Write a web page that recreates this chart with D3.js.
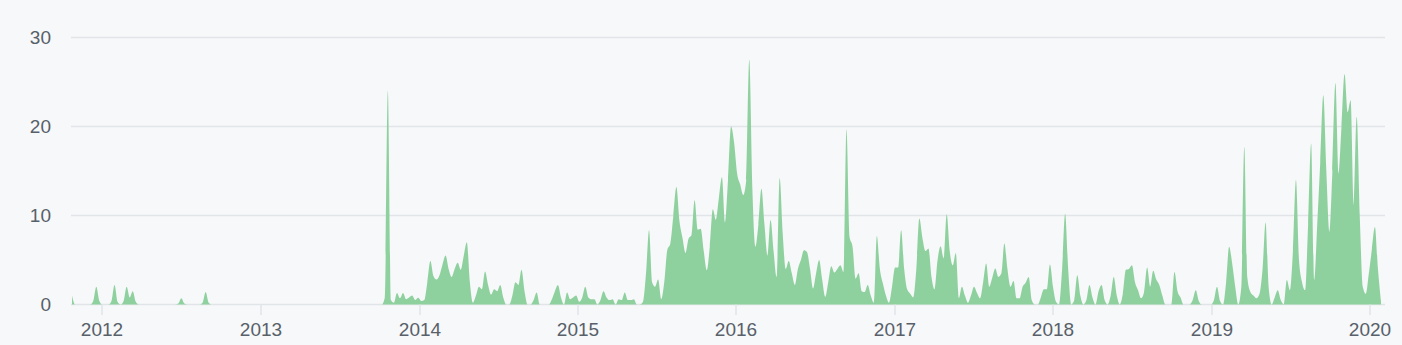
<!DOCTYPE html>
<html>
<head>
<meta charset="utf-8">
<script src="https://cdn.jsdelivr.net/npm/d3@7"></script>
<style>
  body { margin: 0; background: #f6f8fa; }
  svg { display: block; }
  text { font-family: "Liberation Sans", Arial, sans-serif; fill: #586069; }
</style>
</head>
<body>
<div id="chart"></div>
<script>
// weekly commits, first week starting 2011-10-23
var firstWeek = Date.UTC(2011, 9, 23);
var commits = [
  1, 0, 0, 0, 0, 0, 0, 0.4, 2, 0.4,
  0, 0, 0, 0.4, 2.2, 0.3, 0, 0.4, 2, 0.8,
  1.5, 0.3, 0, 0, 0, 0, 0, 0, 0, 0,
  0, 0, 0, 0, 0, 0.1, 0.7, 0.1, 0, 0,
  0, 0, 0, 0.2, 1.4, 0.2, 0, 0, 0, 0,
  0, 0, 0, 0, 0, 0, 0, 0, 0, 0,
  0, 0, 0, 0, 0, 0, 0, 0, 0, 0,
  0, 0, 0, 0, 0, 0, 0, 0, 0, 0,
  0, 0, 0, 0, 0, 0, 0, 0, 0, 0,
  0, 0, 0, 0, 0, 0, 0, 0, 0, 0,
  0, 0, 0, 0.8, 24, 0.5, 0.2, 1.3, 0.7, 1.3,
  0.6, 0.8, 1.0, 0.5, 0.75, 0.4, 0.5, 2.5, 4.9, 3.2,
  2.8, 3.3, 4.5, 5.5, 4.0, 3.1, 4.0, 4.7, 3.9, 5.5,
  7.0, 2.5, 0.2, 1.0, 2.0, 1.7, 3.7, 2.2, 1.1, 1.7,
  1.5, 2.2, 0.8, 0, 0, 1.0, 2.5, 2.2, 3.9, 1.5,
  0, 0, 0.5, 1.35, 0, 0, 0, 0, 0.6, 1.5,
  2.2, 0.8, 0, 1.35, 0.6, 0.8, 1.0, 0.3, 0.8, 2.0,
  0.8, 0.6, 0.6, 0, 0.5, 1.5, 0.8, 0.5, 0.6, 0,
  0.6, 0.5, 1.35, 0.5, 0.5, 0.6, 0, 0, 0.3, 3.5,
  8.35, 2.5, 2.0, 2.8, 0.6, 2.5, 6.1, 6.85, 10, 13.2,
  9.4, 7.5, 5.8, 7.4, 7.8, 11.7, 8.4, 8.5, 6.0, 3.85,
  6.5, 10.7, 9.5, 12, 14.3, 9.2, 14, 20, 18.2, 14.7,
  13.5, 12.3, 14, 27.5, 13.2, 6.5, 9, 13, 9, 5.5,
  9.5, 6, 3.1, 14.2, 8, 4.0, 4.9, 3.5, 2.2, 4,
  5, 6.1, 5.9, 4, 1.8, 3.5, 5.0, 2.8, 0.85, 2.5,
  4.3, 3.6, 4, 4.4, 3.65, 19.65, 7.6, 6.5, 2.9, 3.5,
  1.5, 1.4, 2.2, 1, 0.2, 7.7, 4, 2.35, 1, 0.2,
  2, 4.15, 4.15, 8.35, 4, 1.7, 1.2, 0.8, 4, 9.65,
  7.5, 6.0, 6.3, 3.1, 1.7, 5, 6.55, 5.2, 10.15, 6,
  4.4, 5.8, 0.7, 2.0, 1, 0.2, 1, 2, 1.3, 0.7,
  2.5, 4.6, 2.0, 3, 4.05, 3.1, 3.5, 6.85, 4, 2.0,
  2.65, 0.7, 0.7, 2, 2.45, 3.1, 0.5, 0, 0, 0.8,
  1.7, 1.7, 4.5, 2, 0.3, 0, 4, 10.2, 4, 0,
  0.5, 3.3, 1, 0, 0.5, 2.2, 0.8, 0, 1.5, 2.2,
  0.5, 0, 1, 3.1, 1, 0, 1.2, 3.9, 4.0, 4.4,
  2.5, 1.6, 0.7, 1.4, 4.15, 2.0, 3.8, 2.8, 2.2, 1.0,
  0, 0, 0, 3.65, 1.5, 0.8, 0, 0, 0, 0.5,
  1.6, 0.4, 0, 0, 0, 0, 0.5, 2.0, 0.4, 0,
  2.5, 6.5, 4.6, 2.0, 0, 2, 17.7, 3, 1.4, 1.0,
  0.7, 1.2, 4, 9.2, 2, 0, 0.8, 1.6, 0.5, 0,
  2.75, 1.6, 6, 14, 5, 2.5, 1.6, 9, 18.1, 2.75,
  9, 16, 23.5, 15, 8.15, 15, 24.9, 14.7, 20, 25.9,
  21.6, 22.95, 11, 21.1, 10, 2, 1.2, 3.5, 6.2, 8.7,
  4, 0.3
];
var yTicks = [0, 10, 20, 30];
var xTickYears = [2012, 2013, 2014, 2015, 2016, 2017, 2018, 2019, 2020];

var width = 1402, height = 345;

var data = commits.map(function(v, i) {
  return { date: d3.utcWeek.offset(new Date(firstWeek), i), value: v };
});

var svg = d3.select('#chart').append('svg')
  .attr('width', width)
  .attr('height', height);

var x = d3.scaleUtc()
  .domain(d3.extent(data, function(d) { return d.date; }))
  .range([72, 1381]);

var y = d3.scaleLinear()
  .domain([0, 30])
  .range([304.5, 37.5]);

// grid
svg.append('g')
  .selectAll('line')
  .data(yTicks)
  .enter()
  .append('line')
  .attr('x1', 71)
  .attr('x2', 1385)
  .attr('y1', function(d) { return y(d); })
  .attr('y2', function(d) { return y(d); })
  .attr('stroke', '#e1e4e8')
  .attr('stroke-width', 1.5)

svg.append('g')
  .selectAll('text')
  .data(yTicks)
  .enter()
  .append('text')
  .attr('x', 51)
  .attr('y', function(d) { return y(d); })
  .attr('dy', '0.35em')
  .attr('text-anchor', 'end')
  .style('font-size', '19px')
  .text(function(d) { return d; })

var area = d3.area()
  .curve(d3.curveMonotoneX)
  .x(function(d) { return x(d.date); })
  .y0(y(0))
  .y1(function(d) { return y(d.value); });

svg.append('path')
  .datum(data)
  .attr('fill', '#8fd19e')
  .attr('d', area)

// x axis ticks
var years = xTickYears.map(function(yr) { return new Date(Date.UTC(yr, 0, 1)); });

var xt = svg.append('g')
  .selectAll('g')
  .data(years)
  .enter()
  .append('g')
  .attr('transform', function(d) { return 'translate(' + Math.round(x(d)) + ',0)'; })

xt.append('line')
  .attr('y1', 304.5)
  .attr('y2', 315)
  .attr('stroke', '#e1e4e8')
  .attr('stroke-width', 1.5)

xt.append('text')
  .attr('y', 336)
  .attr('text-anchor', 'middle')
  .style('font-size', '19px')
  .text(d3.utcFormat('%Y'))
</script>
</body>
</html>
